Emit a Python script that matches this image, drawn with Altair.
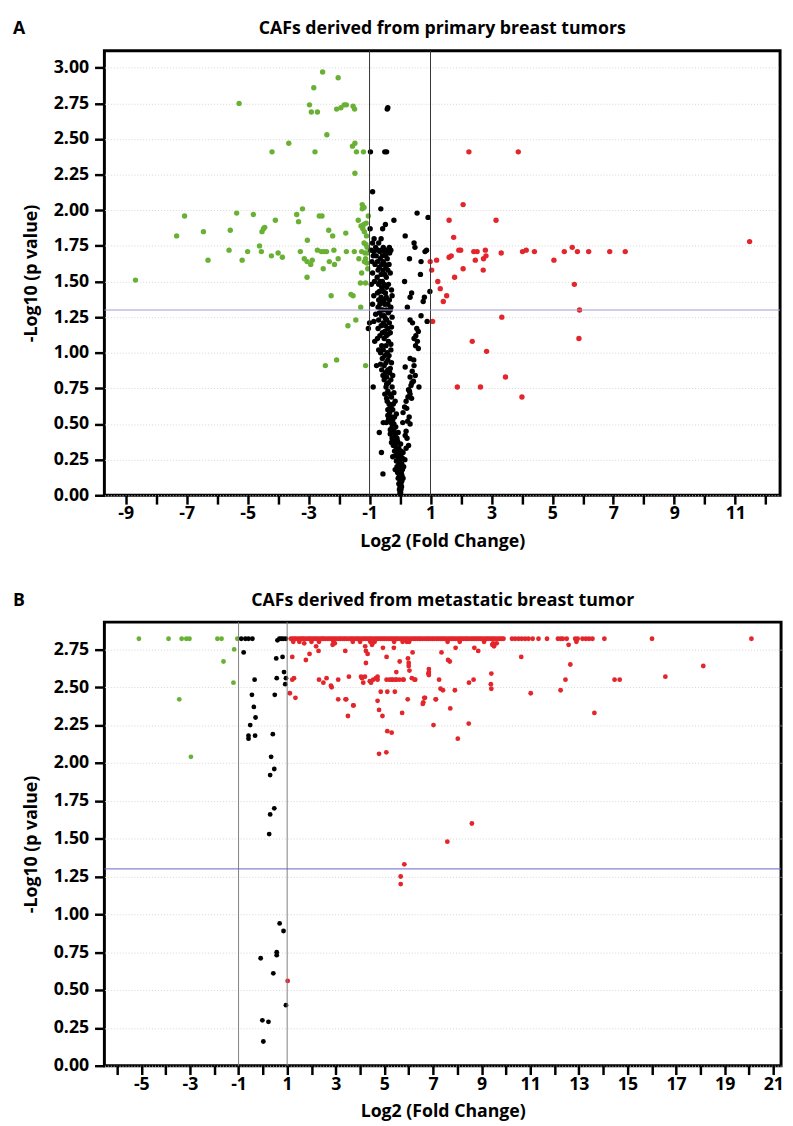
import altair as alt
import pandas as pd

FONT = "Open Sans"

# ---------------- Panel A : CAFs derived from primary breast tumors ----------------
a_title = "CAFs derived from primary breast tumors"
a_down = [(-8.68,1.51),(-7.33,1.82),(-7.07,1.96),(-6.45,1.85),(-6.30,1.65),(-5.61,1.72),(-5.57,1.86),
          (-5.36,1.98),(-5.28,2.75),(-5.18,1.65),(-5.00,1.71),(-4.81,1.97),(-4.61,1.75),(-4.55,1.71),
          (-4.53,1.85),(-4.48,1.87),(-4.44,1.88),(-4.22,1.68),(-4.20,2.41),(-4.09,1.93),(-4.00,1.70),
          (-3.86,1.67),(-3.65,2.47),(-3.39,1.97),(-3.20,2.01),(-3.33,1.92),(-3.27,1.71),(-3.04,1.79),
          (-3.14,1.66),(-3.05,1.64),(-2.93,1.62),(-2.88,1.65),(-3.05,1.53),(-2.97,2.74),(-2.91,2.69),
          (-2.83,2.86),(-2.79,2.41),(-2.71,2.69),(-2.65,1.96),(-2.56,1.96),(-2.71,1.72),(-2.58,1.71),
          (-2.49,1.71),(-2.41,1.71),(-2.52,1.59),(-2.54,2.97),(-2.40,2.53),(-2.45,0.91),(-2.34,1.86),
          (-2.21,1.82),(-2.32,1.64),(-2.15,1.62),(-2.17,1.72),(-2.03,1.66),(-2.26,1.40),(-2.08,0.95),
          (-2.08,2.71),(-2.03,2.93),(-1.94,2.72),(-1.83,2.74),(-1.76,2.74),(-1.78,1.84),(-1.76,1.71),
          (-1.71,1.19),(-1.61,1.41),(-1.56,2.45),(-1.54,2.73),(-1.54,1.40),(-1.50,1.71),(-1.49,2.71),
          (-1.48,2.47),(-1.48,2.26),(-1.45,1.23),(-1.43,2.41),(-1.37,1.93),(-1.35,1.66),(-1.30,1.49),
          (-1.29,1.32),(-1.28,1.89),(-1.26,1.71),(-1.26,1.56),(-1.22,1.87),(-1.24,2.01),(-1.24,2.04),
          (-1.20,2.41),(-1.19,1.90),(-1.18,2.02),(-1.18,1.77),(-1.17,1.64),(-1.12,1.76),(-1.17,1.85),
          (-1.15,1.70),(-1.13,1.66),(-1.13,1.49),(-1.13,0.91),(-1.11,1.91),(-1.09,1.63),(-1.07,1.70),
          (-1.06,1.59),(-1.04,1.96),(-1.10,1.82),(-1.08,1.74)]
a_up = [(2.26,2.41),(3.88,2.41),(2.07,2.04),(1.61,1.93),(3.15,1.93),(1.76,1.81),(11.47,1.78),
        (1.93,1.72),(1.99,1.72),(2.42,1.71),(2.53,1.71),(2.80,1.72),(3.32,1.70),(4.02,1.71),
        (4.14,1.72),(4.41,1.71),(5.39,1.71),(5.65,1.74),(5.82,1.71),(6.19,1.71),(6.88,1.71),
        (7.39,1.71),(5.05,1.65),(1.61,1.67),(1.68,1.68),(2.47,1.65),(2.74,1.66),(2.82,1.68),
        (0.99,1.64),(1.20,1.65),(1.04,1.58),(2.07,1.59),(2.73,1.58),(1.79,1.53),(1.24,1.50),
        (1.32,1.45),(1.53,1.40),(1.42,1.36),(5.72,1.48),(5.89,1.30),(3.34,1.25),(1.07,1.22),
        (2.37,1.08),(5.87,1.10),(2.84,1.01),(3.46,0.83),(1.88,0.76),(2.64,0.76),(4.00,0.69)]
a_ns = [(-0.42,2.71),(-0.40,2.72),(-0.97,2.41),(-0.50,2.41),(-0.44,2.41),(-0.90,2.13),(-0.63,2.01),
        (0.56,1.98),(0.92,1.95),(-0.20,1.93),(-0.48,1.90),(-0.57,1.87),(-0.98,1.87),(0.17,1.82),
        (-0.85,1.80),(-0.62,1.80),(0.46,1.77),(-0.70,1.77),(-0.90,1.77),(0.49,1.74),(-0.55,1.74),
        (-0.80,1.74),(-0.35,1.74),(0.87,1.72),(-0.95,1.72),(-0.60,1.72),(-0.45,1.72),(-0.30,1.72),
        (-0.72,1.72),(0.82,1.71),(-0.66,1.71),(-0.52,1.71),(-0.40,1.71),(-0.78,1.68),(-0.58,1.68),
        (-0.47,1.68),(-0.88,1.68),(0.31,1.66),(-0.65,1.66),(-0.42,1.66),(0.69,1.64),(-0.74,1.64),
        (-0.55,1.64),(-0.60,1.62),(-0.50,1.62),(-0.82,1.62),(-0.68,1.60),(-0.46,1.60),(-0.72,1.58),
        (-0.56,1.58),(-0.40,1.58),(0.67,1.55),(-0.62,1.55),(-0.50,1.55),(-0.75,1.53),(-0.45,1.53),
        (0.15,1.50),(-0.66,1.50),(-0.58,1.50),(-0.84,1.50),(-0.52,1.48),(-0.70,1.48),(-0.60,1.46),
        (-0.44,1.46),(0.98,1.43),(-0.68,1.43),(-0.55,1.43),(0.38,1.42),(-0.48,1.42),(-0.74,1.42),
        (0.80,1.39),(0.33,1.39),(-0.62,1.39),(-0.45,1.39),(-0.70,1.37),(-0.52,1.37),(-0.35,1.37),
        (0.76,1.36),(-0.58,1.36),(-0.66,1.34),(-0.40,1.34),(-0.50,1.34),(0.24,1.32),(-0.72,1.32),
        (-0.30,1.32),(-0.56,1.30),(-0.45,1.30),(-0.62,1.30),(-0.68,1.28),(-0.38,1.28),(0.69,1.26),
        (-0.52,1.26),(-0.60,1.26),(0.33,1.23),(-0.44,1.23),(-0.70,1.23),(0.41,1.21),(-1.00,1.21),
        (-0.55,1.21),(-0.35,1.21),(0.89,1.22),(-0.62,1.19),(-0.48,1.19),(0.55,1.17),(-1.04,1.17),
        (-0.72,1.17),(-0.40,1.17),(-0.58,1.14),(-0.32,1.14),(0.60,1.15),(-0.66,1.12),(-0.45,1.12),
        (0.52,1.12),(0.46,1.10),(-0.52,1.10),(0.57,1.08),(-0.83,1.08),(-0.38,1.08),(0.51,1.05),
        (-0.60,1.05),(-0.46,1.05),(0.60,1.03),(-0.55,1.02),(-0.30,1.02),(-0.64,1.00),(-0.42,1.00),
        (-0.50,0.98),(-0.36,0.98),(0.33,0.96),(-0.58,0.96),(0.45,0.95),(-0.46,0.93),(-0.28,0.93),
        (0.46,0.91),(-0.77,0.91),(-0.52,0.91),(0.17,0.90),(-0.40,0.88),(-0.60,0.88),(0.40,0.87),
        (-0.34,0.86),(-0.48,0.86),(0.50,0.84),(0.33,0.83),(-0.44,0.83),(-0.30,0.81),(-0.52,0.81),
        (0.44,0.80),(0.39,0.79),(-0.38,0.79),(0.36,0.77),(0.62,0.76),(-0.88,0.76),(-0.46,0.76),
        (-0.26,0.76),(0.28,0.74),(0.31,0.73),(-0.40,0.73),(0.33,0.71),(-0.34,0.71),(-0.50,0.71),
        (0.26,0.69),(-0.28,0.69),(0.38,0.68),(0.20,0.66),(-0.42,0.66),(-0.36,0.64),(-0.22,0.64),
        (0.15,0.62),(-0.30,0.62),(0.22,0.61),(-0.40,0.60),(-0.24,0.60),(0.10,0.58),(-0.34,0.58),
        (-0.28,0.55),(-0.18,0.55),(0.30,0.55),(-0.38,0.53),(-0.24,0.53),(0.25,0.52),(0.09,0.51),
        (-0.55,0.51),(-0.45,0.51),(-0.30,0.51),(0.33,0.50),(-0.20,0.50),(-0.26,0.48),(-0.14,0.48),
        (-0.32,0.46),(-0.20,0.46),(0.20,0.45),(-0.68,0.44),(-0.22,0.44),(0.17,0.42),(-0.16,0.42),
        (-0.26,0.40),(-0.10,0.40),(0.23,0.40),(-0.20,0.38),(-0.08,0.38),(-0.14,0.36),(0.02,0.36),
        (0.28,0.35),(-0.22,0.35),(-0.12,0.33),(-0.04,0.33),(0.20,0.33),(-0.18,0.31),(0.04,0.31),
        (-0.61,0.30),(-0.08,0.30),(-0.14,0.28),(0.02,0.28),(-0.06,0.26),(0.08,0.26),(0.16,0.25),
        (-0.12,0.24),(0.00,0.24),(-0.04,0.22),(0.06,0.22),(-0.10,0.20),(0.02,0.20),(0.12,0.20),
        (-0.02,0.18),(0.08,0.18),(-0.08,0.16),(0.04,0.16),(-0.56,0.15),(-0.02,0.14),(0.06,0.14),
        (-0.06,0.12),(0.02,0.12),(0.00,0.10),(0.06,0.10),(-0.04,0.08),(0.03,0.08),(0.00,0.06),
        (0.05,0.06),(-0.02,0.04),(0.03,0.04),(0.00,0.02),(0.02,0.02),(0.01,0.01),
        (-0.86,1.71),(-0.34,1.70),(-0.92,1.64),(-0.36,1.62),(-0.90,1.56),(-0.32,1.56),(-0.94,1.48),
        (-0.38,1.48),(-0.28,1.44),(-0.86,1.40),(-0.26,1.40),(-0.90,1.34),(-0.32,1.30),(-0.80,1.27),
        (-0.26,1.25),(-0.86,1.22),(-0.48,1.24),(-0.28,1.18),(-0.50,1.15),(-0.40,1.13),(-0.74,1.10),
        (-0.30,1.06),(-0.70,1.02),(-0.40,0.95),(-0.64,0.92),(-0.32,0.89),(-0.56,0.84),(-0.24,0.84),
        (-0.44,0.78),(-0.20,0.72),(-0.44,0.68),(-0.16,0.66),(-0.34,0.61),(-0.12,0.57),(-0.40,0.56),
        (-0.32,0.43),(-0.06,0.44),(-0.28,0.37),(-0.24,0.27),(0.10,0.30),(-0.16,0.18),(0.10,0.12)]

# ---------------- Panel B : CAFs derived from metastatic breast tumor ----------------
b_title = "CAFs derived from metastatic breast tumor"
b_down = [(-5.10,2.82),(-3.88,2.82),(-3.34,2.82),(-3.15,2.82),(-3.02,2.82),(-1.87,2.82),(-1.70,2.82),
          (-1.05,2.82),(-1.18,2.75),(-1.62,2.67),(-1.21,2.53),(-3.44,2.42),(-2.96,2.04)]
b_ns = [(-0.89,2.82),(-0.72,2.82),(-0.59,2.82),(-0.43,2.82),(0.60,2.81),(0.68,2.82),(0.76,2.82),
        (0.84,2.82),(0.95,2.82),(-0.79,2.73),(-0.34,2.55),(-0.45,2.45),(-0.37,2.37),(-0.30,2.30),
        (-0.52,2.25),(-0.59,2.18),(-0.59,2.16),(-0.32,2.18),(0.55,2.69),(0.81,2.70),(0.87,2.60),
        (0.57,2.56),(0.95,2.56),(0.49,2.45),(0.92,2.52),(0.41,2.19),(0.34,2.04),(0.47,1.96),
        (0.30,1.92),(0.47,1.70),(0.30,1.66),(0.26,1.53),(0.69,0.94),(0.85,0.89),(0.57,0.75),
        (0.57,0.73),(-0.09,0.71),(0.43,0.61),(0.95,0.40),(-0.02,0.30),(0.23,0.29),(0.02,0.16)]
b_up_top_x = [1.15,1.22,1.30,1.36,1.45,1.52,1.60,1.66,1.74,1.83,1.90,1.97,2.05,2.13,2.20,2.28,2.37,
              2.44,2.50,2.58,2.67,2.74,2.82,2.90,2.97,3.05,3.14,3.20,3.28,3.36,3.43,3.52,3.60,3.67,
              3.75,3.84,3.90,3.98,4.07,4.15,4.22,4.30,4.38,4.45,4.53,4.62,4.70,4.77,4.85,4.93,5.00,
              5.08,5.17,5.25,5.32,5.40,5.48,5.55,5.64,5.72,5.80,5.87,5.95,6.03,6.12,6.20,6.27,6.35,
              6.43,6.50,6.58,6.67,6.75,6.82,6.90,6.98,7.06,7.15,7.22,7.30,7.38,7.45,7.53,7.62,7.70,
              7.78,7.85,7.93,8.02,8.10,8.17,8.25,8.33,8.40,8.48,8.57,8.65,8.72,8.80,8.88,8.95,9.03,
              9.12,9.20,9.27,9.35,9.43,9.50,9.58,9.67,9.75,9.83,9.90,10.25,10.38,10.52,10.65,10.79,
              10.93,11.10,11.34,11.69,12.14,12.25,12.34,12.50,12.85,12.95,13.15,13.29,13.42,13.56,
              14.05,16.01,20.10]
b_up_top_y = [2.82] * len(b_up_top_x)
b_up = [(1.25,2.80),(1.50,2.80),(2.00,2.80),(2.31,2.80),(2.90,2.80),(3.70,2.80),(4.00,2.80),
        (4.42,2.80),(4.60,2.80),(5.40,2.80),(5.92,2.80),(6.02,2.80),(7.60,2.80),(8.10,2.80),
        (9.10,2.80),(9.62,2.79),(12.90,2.80),
        (1.21,2.70),(1.28,2.56),(1.21,2.55),(1.11,2.46),(1.34,2.43),(1.70,2.79),(1.77,2.68),
        (1.92,2.72),(2.19,2.77),(2.29,2.74),(2.31,2.55),(2.49,2.53),(2.62,2.56),(2.83,2.50),
        (2.80,2.51),(3.10,2.42),(3.10,2.55),(3.39,2.74),(3.43,2.42),(3.54,2.57),(3.73,2.38),
        (3.50,2.31),(4.08,2.56),(4.13,2.53),(4.21,2.77),(4.24,2.74),(4.31,2.72),(4.24,2.66),
        (4.49,2.78),(4.51,2.79),(4.45,2.53),(4.54,2.55),(4.65,2.56),(4.72,2.55),(4.72,2.41),
        (4.78,2.35),(4.92,2.31),(4.85,2.47),(4.94,2.76),(5.09,2.70),(5.09,2.55),(5.21,2.55),
        (5.12,2.47),(5.39,2.76),(5.43,2.47),(5.35,2.55),(5.49,2.55),(5.62,2.55),(5.77,2.55),
        (5.49,2.60),(5.63,2.67),(5.73,2.33),(5.96,2.42),(5.97,2.69),(6.00,2.66),(6.00,2.64),
        (6.03,2.61),(6.16,2.73),(6.13,2.56),(6.27,2.55),(6.60,2.40),(6.67,2.43),(6.83,2.62),
        (6.83,2.60),(6.83,2.58),(7.12,2.42),(7.25,2.55),(7.31,2.49),(7.41,2.48),(7.35,2.73),
        (7.62,2.68),(7.69,2.67),(7.71,2.36),(7.90,2.48),(7.93,2.76),(8.48,2.53),(8.67,2.55),
        (8.70,2.76),(8.86,2.74),(9.40,2.59),(9.38,2.52),(9.40,2.49),(9.47,2.79),(9.51,2.77),
        (10.63,2.70),(11.02,2.46),(4.78,2.06),(5.08,2.07),(5.12,2.21),(5.30,2.20),(7.02,2.25),
        (8.02,2.16),(8.47,2.26),(8.60,1.60),(7.59,1.48),(12.25,2.48),(12.45,2.55),(12.65,2.65),
        (12.58,2.78),(13.64,2.33),(14.47,2.55),(14.68,2.55),(16.56,2.57),(18.12,2.64),(9.44,2.78),
        (5.82,1.33),(5.67,1.25),(5.67,1.20),(1.02,0.56),(2.87,2.78),(2.96,2.79),(5.75,2.80),
        (4.04,2.57),(4.20,2.57),(4.40,2.54),(4.72,2.57),(5.30,2.55),(5.46,2.55),(5.79,2.55),
        (6.24,2.55),(6.81,2.59),(6.58,2.39),(6.64,2.43),(7.11,2.42),(3.72,2.38),(3.40,2.42)]

panel_letters = ["A", "B"]
panel_titles = [a_title, b_title]
fc_cut = [-1, 1]
p_cut = [1.30]
groups = ["up", "ns", "down"]
group_colors = ["#e3262b", "#000000", "#69b134"]


def frame(down, ns, up):
    rows = [{"x": x, "y": y, "g": "down"} for x, y in down]
    rows += [{"x": x, "y": y, "g": "ns"} for x, y in ns]
    rows += [{"x": x, "y": y, "g": "up"} for x, y in up]
    return pd.DataFrame(rows)


def panel(df, letter, title, xdom, ydom, yvals, xvals, w, h, hcolor, vcolor, size, lx, ly):
    xs = alt.Scale(domain=xdom, nice=False, zero=False)
    ys = alt.Scale(domain=ydom, nice=False, zero=False)
    xaxis = alt.Axis(values=xvals, labelExpr="datum.value % 2 != 0 ? '' + datum.value : ''",
                     title="Log2 (Fold Change)", grid=False, domain=False, tickSize=9, tickWidth=2.5,
                     tickColor="black", labelFont=FONT, labelFontSize=18, labelFontWeight="bold",
                     labelColor="black", titleFont=FONT, titleFontSize=18, titleFontWeight="bold",
                     titleColor="black", labelPadding=1, titlePadding=10, labelFlush=False,
                     labelOverlap=False, labelBound=False)
    yaxis = alt.Axis(values=yvals, format=".2f", title="-Log10 (p value)", grid=True,
                     gridColor="#d4d4d4", gridDash=[1, 2], gridWidth=1, domain=False, tickSize=10,
                     tickWidth=2.5, tickColor="black", labelFont=FONT, labelFontSize=18,
                     labelFontWeight="bold", labelColor="black", titleFont=FONT, titleFontSize=18,
                     titleFontWeight="bold", titleColor="black", labelPadding=6, titlePadding=13,
                     labelOverlap=False, labelBound=False, labelFlush=False)
    pts = alt.Chart(df).mark_circle(opacity=1, size=size).encode(
        x=alt.X("x:Q", scale=xs, axis=xaxis),
        y=alt.Y("y:Q", scale=ys, axis=yaxis),
        color=alt.Color("g:N", scale=alt.Scale(domain=groups, range=group_colors), legend=None),
    )
    vl = alt.Chart(pd.DataFrame({"x": fc_cut})).mark_rule(color=vcolor, strokeWidth=1).encode(
        x=alt.X("x:Q", scale=xs, axis=xaxis))
    hl = alt.Chart(pd.DataFrame({"y": p_cut})).mark_rule(color=hcolor, strokeWidth=1).encode(
        y=alt.Y("y:Q", scale=ys, axis=yaxis))
    lab = alt.Chart(pd.DataFrame({"t": [letter]})).mark_text(
        align="left", baseline="alphabetic", font=FONT, fontSize=18, fontWeight="bold",
        color="black").encode(x=alt.value(lx), y=alt.value(ly), text="t:N")
    ttl = alt.Chart(pd.DataFrame({"t": [title]})).mark_text(
        align="center", baseline="alphabetic", font=FONT, fontSize=18, fontWeight="bold",
        color="black").encode(x=alt.value(w / 2), y=alt.value(ly), text="t:N")
    return alt.layer(pts, vl, hl, lab, ttl).properties(width=w, height=h)


df_a = frame(a_down, a_ns, a_up)
b_up_all = b_up + list(zip(b_up_top_x, b_up_top_y))
df_b = frame(b_down, b_ns, b_up_all)

ya = [i * 0.25 for i in range(13)]
yb = [i * 0.25 for i in range(12)]
chart_a = panel(df_a, panel_letters[0], panel_titles[0], [-9.7, 12.47], [0, 3.12], ya,
                list(range(-9, 13)), 687, 452, "#9c9cd0", "#333333", 30, -93, -17)
chart_b = panel(df_b, panel_letters[1], panel_titles[1], [-6.52, 21.32], [0, 2.93], yb,
                list(range(-6, 22)), 688, 451, "#6464cc", "#808080", 24, -93, -16)

chart = alt.vconcat(chart_a, chart_b, spacing=39).resolve_scale(
    x="independent", y="independent").configure_view(
    stroke="black", strokeWidth=3).configure_axis(labelOverlap=False).properties(
    padding={"left": 3, "right": 0, "top": 1, "bottom": 0}, background="white")

chart.save("out.html", embed_options={"renderer": "svg", "actions": False})
